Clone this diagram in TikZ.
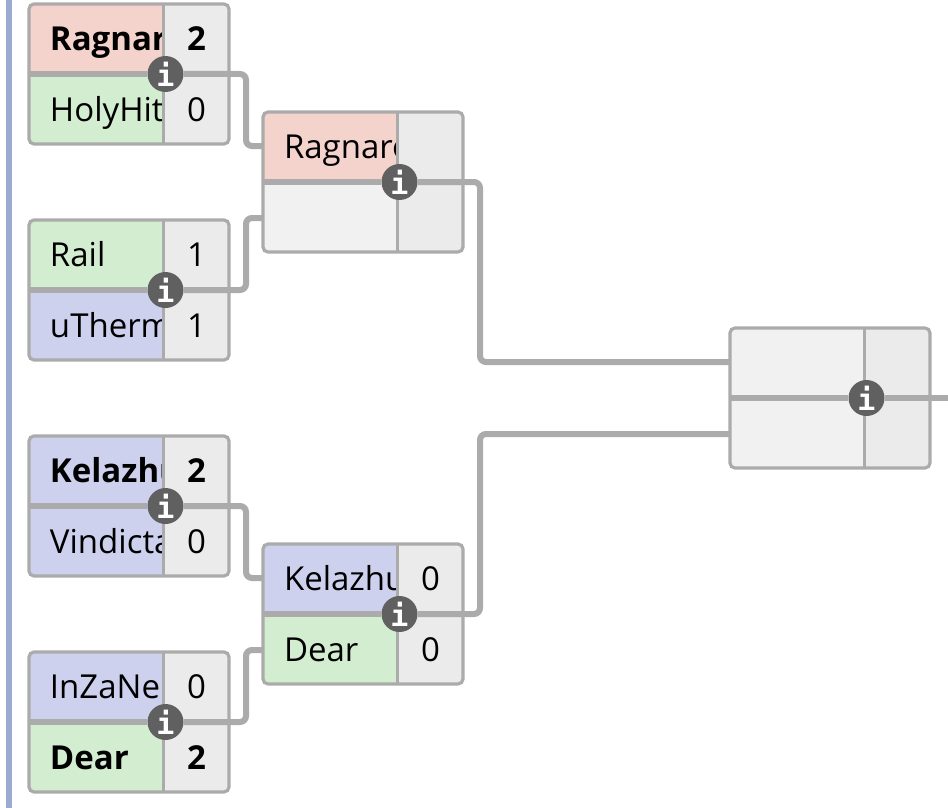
\documentclass[tikz,border=0pt]{standalone}
\usepackage{fontspec}
\setmainfont{Open Sans}
\newfontfamily\iconfont{DejaVu Sans Mono}
\usetikzlibrary{matrix,positioning}
\definecolor{linegray}{HTML}{ABABAB}
\definecolor{barblue}{HTML}{9DAACF}
\definecolor{teamred}{HTML}{F4D3CD}
\definecolor{teamgreen}{HTML}{D3EDD0}
\definecolor{teamblue}{HTML}{CDD1EE}
\definecolor{scoregray}{HTML}{EBEBEB}
\definecolor{emptygray}{HTML}{F1F1F1}
\definecolor{icongray}{HTML}{606060}
\newcommand{\teamname}[1]{\makebox[135pt][l]{\hspace{21pt}#1}}
\tikzset{
mymat/.style={
  matrix of nodes,
  nodes in empty cells,
  anchor=north west,
  inner sep=0pt,
  outer sep=0pt,
  row sep=0pt,
  column sep=0pt,
  nodes={font=\fontsize{33}{36}\selectfont, minimum height=70pt},
  column 1/.style={nodes={minimum width=135pt, fill=emptygray}},
  column 2/.style={nodes={minimum width=65pt, fill=scoregray}},
  row 1/.style={nodes={text height=23pt, text depth=1pt}},
  row 2/.style={nodes={text height=25pt, text depth=0pt}}
  },
redcell/.style={fill=teamred},
greencell/.style={fill=teamgreen},
bluecell/.style={fill=teamblue},
boxline/.style={draw=linegray, line width=3.2pt, rounded corners=5pt},
colline/.style={draw=linegray, line width=3pt},
wire/.style={draw=linegray, line width=6pt, rounded corners=6pt},
infoicon/.style={
  circle, fill=icongray, text=white, inner sep=0pt, minimum size=36pt,
  font=\iconfont\bfseries\fontsize{30}{30}\selectfont
  }
}
\begin{document}
\begin{tikzpicture}[x=1pt,y=-1pt]
\useasboundingbox (0,0) rectangle (948,808);
\fill[barblue] (6,0) rectangle (12,808);

\matrix[mymat] at (29,4) (qfa)
{
  |[redcell]| \teamname{\textbf{Ragnar}} & \textbf{2} \\
  |[greencell]| \teamname{HolyHit} & 0 \\ };

\matrix[mymat] at (29,220) (qfb)
{
  |[greencell]| \teamname{Rail} & 1 \\
  |[bluecell]| \teamname{uTherm} & 1 \\ };

\matrix[mymat] at (29,436) (qfc)
{
  |[bluecell]| \teamname{\textbf{Kelazhu}} & \textbf{2} \\
  |[bluecell]| \teamname{Vindicta} & 0 \\ };

\matrix[mymat] at (29,652) (qfd)
{
  |[bluecell]| \teamname{InZaNe} & 0 \\
  |[greencell]| \teamname{\textbf{Dear}} & \textbf{2} \\ };

\matrix[mymat] at (263,112) (sfa)
{
  |[redcell]| \teamname{Ragnaro} & \\
  & \\ };

\matrix[mymat] at (263,544) (sfb)
{
  |[bluecell]| \teamname{Kelazhu} & 0 \\
  |[greencell]| \teamname{Dear} & 0 \\ };

\matrix[mymat] at (730,328) (fin)
{
  & \\
  & \\ };

% borders, middle lines, icons
\foreach \m in {qfa,qfb,qfc,qfd,sfa,sfb,fin}{
  \draw[colline] ([xshift=-0.5pt]\m-1-2.north west) -- ([xshift=-0.5pt]\m-2-2.south west);
  \node[infoicon] (\m-info) at ([xshift=1.5pt]\m-1-2.south west) {i};
  \draw[wire] (\m-1-1.south west) -- (\m-info.west);
  \draw[boxline] (\m.north west) rectangle (\m.south east);
}

\draw[wire]
  (qfa-info.east) -| ([xshift=-17pt,yshift=1pt]sfa-1-1.west) -- ([yshift=1pt]sfa-1-1.west);
\draw[wire]
  (qfb-info.east) -| ([xshift=-17pt,yshift=-1pt]sfa-2-1.west) -- ([yshift=-1pt]sfa-2-1.west);
\draw[wire]
  (qfc-info.east) -| ([xshift=-17pt,yshift=1pt]sfb-1-1.west) -- ([yshift=1pt]sfb-1-1.west);
\draw[wire]
  (qfd-info.east) -| ([xshift=-17pt,yshift=-1pt]sfb-2-1.west) -- ([yshift=-1pt]sfb-2-1.west);

\draw[wire]
  (sfa-info.east) -| ([xshift=-250pt,yshift=1pt]fin-1-1.west) -- ([yshift=1pt]fin-1-1.west);
\draw[wire]
  (sfb-info.east) -| ([xshift=-250pt,yshift=-1pt]fin-2-1.west) -- ([yshift=-1pt]fin-2-1.west);

\coordinate (finout) at (948,398);
\draw[wire] (fin-info.east) -- (finout);

\end{tikzpicture}
\end{document}
